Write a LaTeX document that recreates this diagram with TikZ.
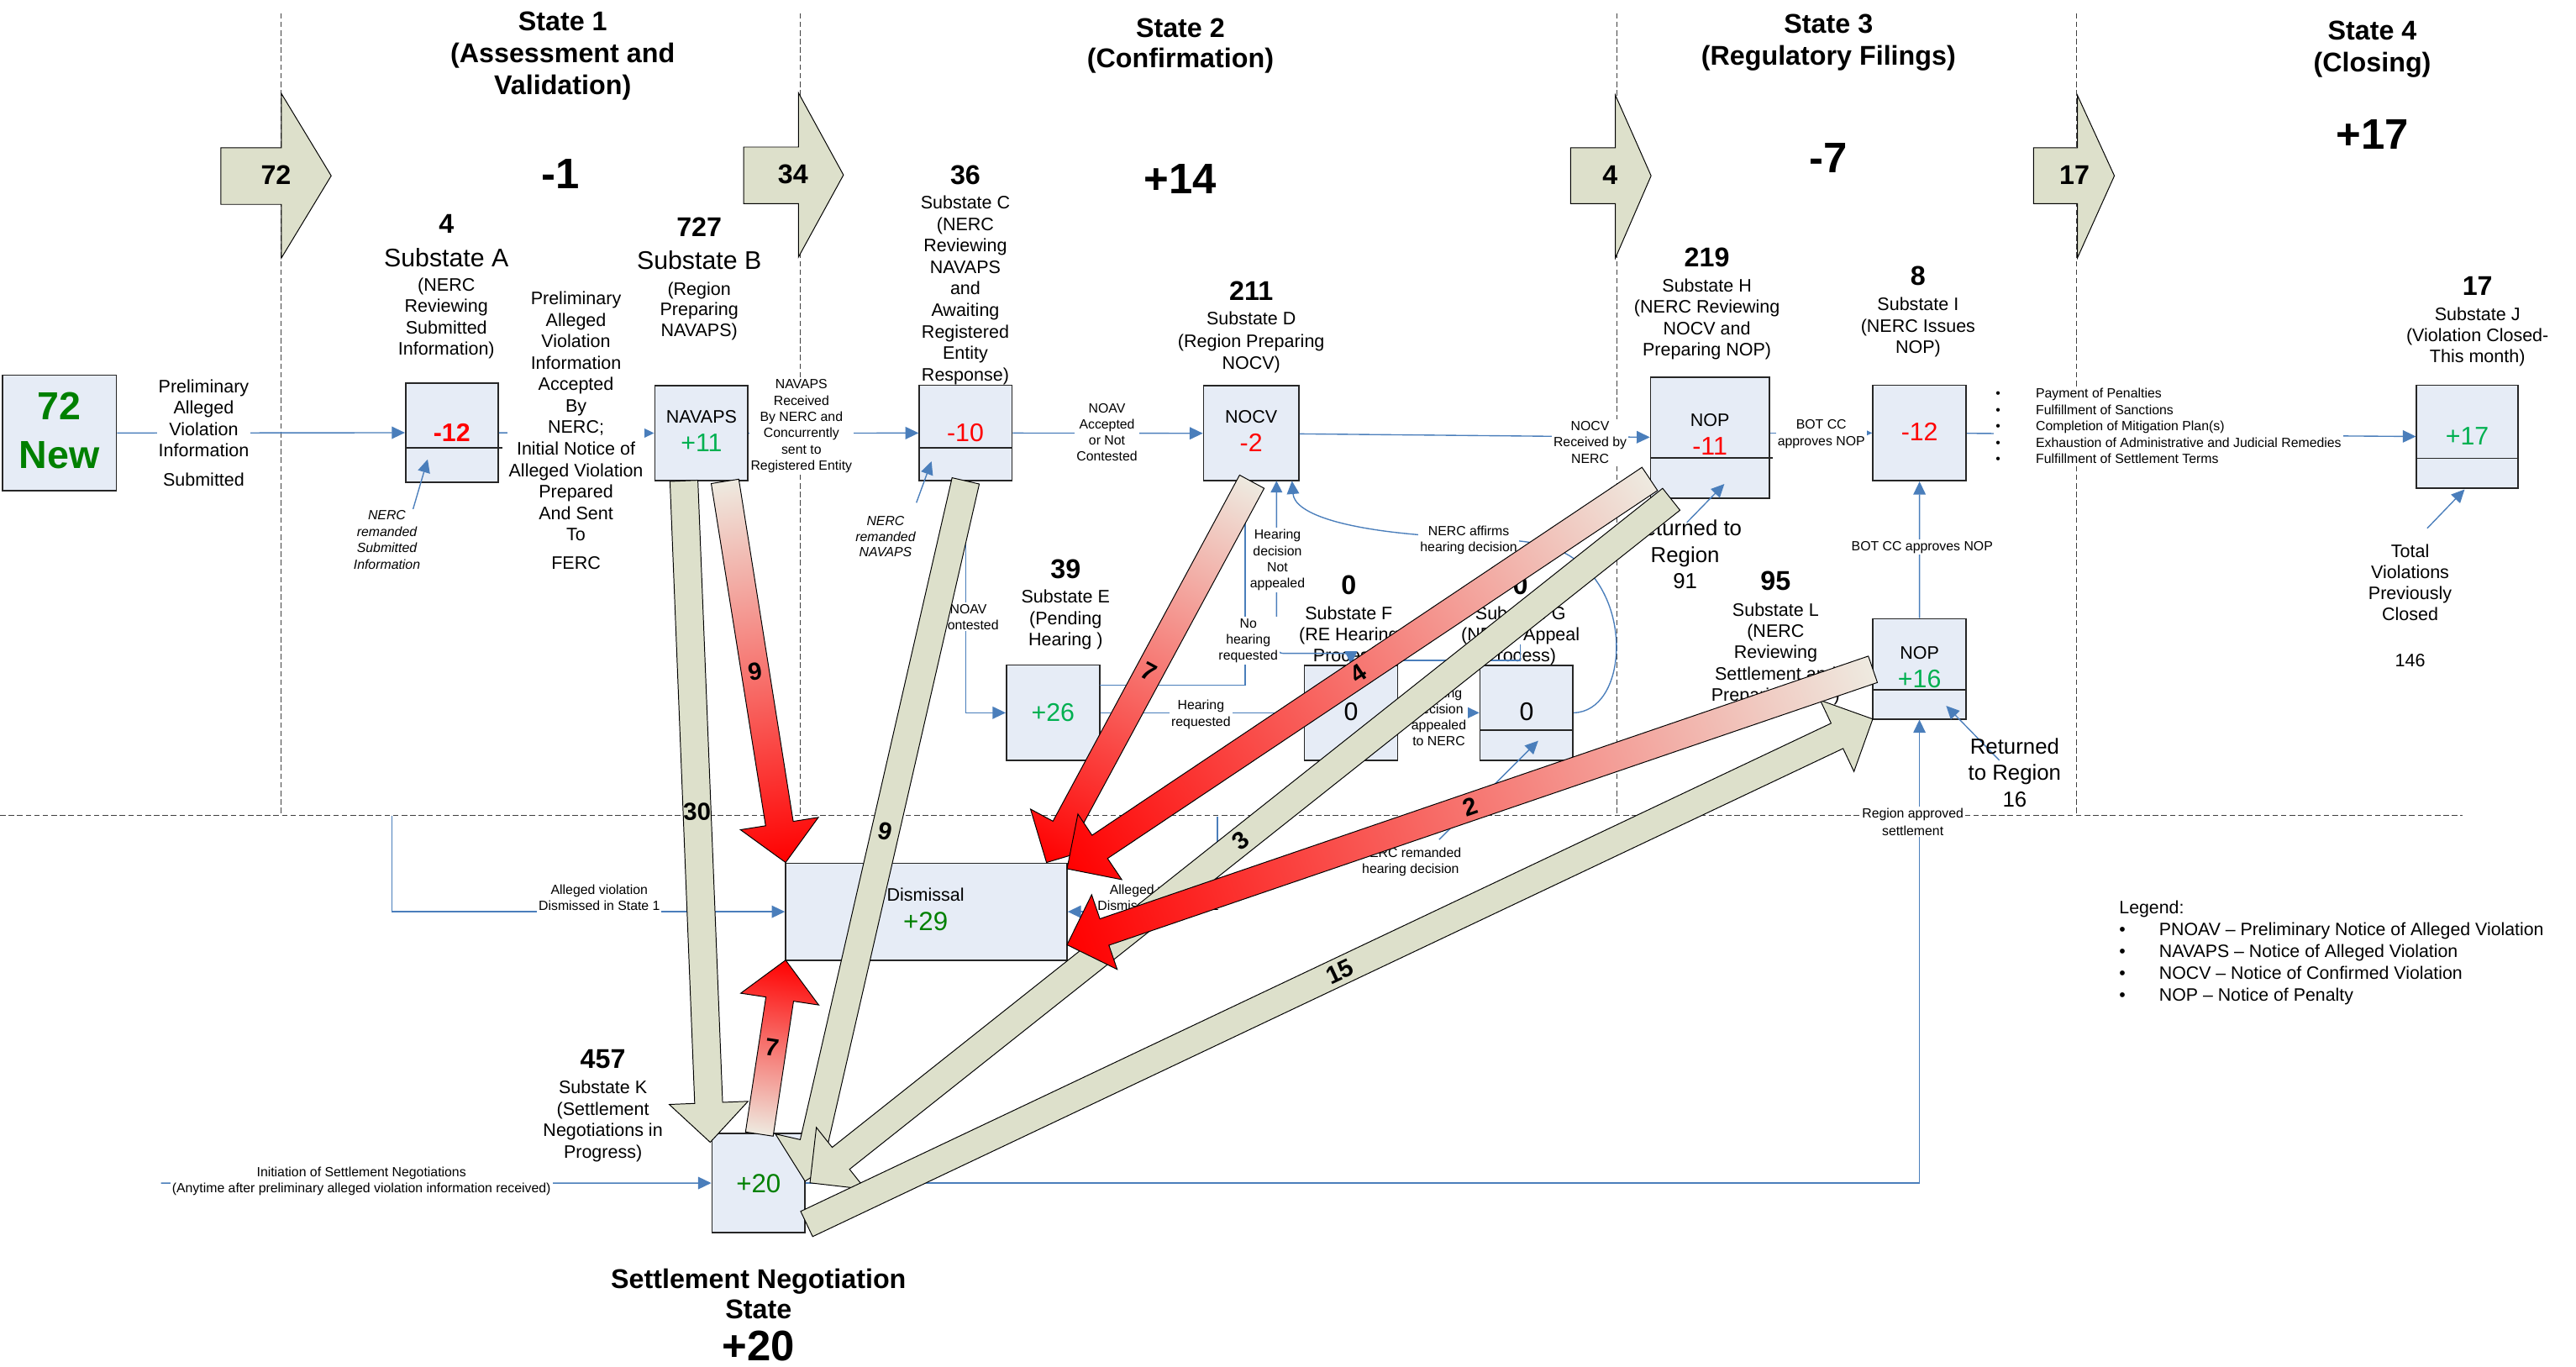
\documentclass[tikz,border=0pt]{standalone}
\usepackage{fontspec}
\setmainfont{Liberation Sans}
\usetikzlibrary{arrows.meta}
\definecolor{connblue}{RGB}{74,126,187}
\definecolor{boxfill}{RGB}{230,236,246}
\definecolor{arrgrey}{RGB}{221,224,203}
\definecolor{tailc}{RGB}{238,234,224}
\definecolor{vred}{RGB}{255,0,0}
\definecolor{brgreen}{RGB}{0,176,80}
\definecolor{dkgreen}{RGB}{0,128,0}
\newcommand\fsz[2]{\fontsize{#1}{#2}\selectfont}
\newcommand\mkbox[5]{\node[sbox, minimum width={#4-#2}, minimum height={#5-#3}] (#1) at ({(#2+#4)/2},{(#3+#5)/2}) {};}
\makeatletter
\newcommand\fatarrow[5]{%
  \pgfpointdiff{\pgfpointanchor{#1}{center}}{\pgfpointanchor{#2}{center}}%
  \pgfgetlastxy{\fa@dx}{\fa@dy}%
  \pgfmathsetmacro\fa@ang{atan2(\fa@dy,\fa@dx)}%
  \pgfmathsetmacro\fa@len{veclen(\fa@dx/100,\fa@dy/100)*100}%
  \pgfmathsetmacro\fa@base{\fa@len-24}%
  \pgfmathsetmacro\fa@mid{\fa@len/2}%
  \pgfmathsetmacro\fa@rot{#5-\fa@ang}%
  \begin{scope}[transform canvas={shift={(#1)},rotate=\fa@ang}]
    \path[bigarrow,#3] (0pt,8.5pt) -- (\fa@base pt,8.5pt) -- (\fa@base pt,24pt) -- (\fa@len pt,0pt) -- (\fa@base pt,-24pt) -- (\fa@base pt,-8.5pt) -- (0pt,-8.5pt) -- cycle;
    \node[arrnum,rotate=\fa@rot] (#1lab) at (\fa@mid pt,0pt) {#4};
  \end{scope}}
\makeatother
\begin{document}
\begin{tikzpicture}[x=1pt,y=-1pt,
  sbox/.style={draw=black!85, line width=0.9pt, fill=boxfill, inner sep=0pt},
  divl/.style={draw=black!85, line width=0.9pt},
  conn/.style={draw=connblue, line width=0.7pt, -{Triangle[length=8pt,width=7.5pt]}},
  conntwo/.style={draw=connblue, line width=0.7pt, {Triangle[length=7pt,width=7pt]}-{Triangle[length=8pt,width=7.5pt]}},
  bline/.style={draw=connblue, line width=0.7pt},
  lbl/.style={fill=white, inner sep=1pt, align=center, font=\fsz{8.1}{9.8}},
  txt/.style={inner sep=0pt, align=center},
  dashln/.style={draw=black!75, line width=0.5pt, dash pattern=on 3.4pt off 1.8pt},
  statearr/.style={draw=black, line width=0.5pt, fill=arrgrey},
  bigarrow/.style={draw=black, line width=0.5pt},
  greyarr/.style={fill=arrgrey},
  redarr/.style={left color=tailc, right color=vred},
  arrnum/.style={font=\bfseries\fsz{15}{15}, inner sep=0pt},
  ttl/.style={txt, font=\bfseries\fsz{16.5}{19.6}},
  bignum/.style={txt, font=\bfseries\fsz{26}{26}},
  cnt/.style={txt, font=\bfseries\fsz{16.5}{16.5}},
  desc/.style={txt, font=\fsz{11}{13}},
  boxnum/.style={txt, font=\fsz{15.5}{15.5}},
  boxlbl/.style={txt, font=\fsz{11}{11}},
]
\useasboundingbox (0,0) rectangle (1568,831.6);
\fill[white] (0,0) rectangle (1568,831.6);

% dashed state separators
\draw[dashln] (171,8) -- (171,496.5);
\draw[dashln] (487,8) -- (487,496.5);
\draw[dashln] (984,8) -- (984,496.5);
\draw[dashln] (1264,8) -- (1264,496.5);
\draw[dashln] (0,496.5) -- (1499,496.5);

% state transition arrows
\draw[statearr] (134.4,90) -- (171.3,90) -- (171.3,57) -- (201.6,107) -- (171.3,157) -- (171.3,124.4) -- (134.4,124.4) -- cycle;
\draw[statearr] (452.7,89.5) -- (486,89.5) -- (486,56.5) -- (513.4,106.5) -- (486,156.5) -- (486,124) -- (452.7,124) -- cycle;
\draw[statearr] (956,90) -- (983.3,90) -- (983.3,58) -- (1005,107) -- (983.3,157) -- (983.3,124) -- (956,124) -- cycle;
\draw[statearr] (1237.8,90) -- (1264.5,90) -- (1264.5,58) -- (1287,107) -- (1264.5,157) -- (1264.5,124) -- (1237.8,124) -- cycle;
\node[cnt] (sa1) at (168,106.6) {72};
\node[cnt] (sa2) at (482.7,106) {34};
\node[cnt] (sa3) at (980,106.5) {4};
\node[cnt] (sa4) at (1262.7,106.5) {17};

% titles
\node[ttl, anchor=north] (t1) at (342.5,6.7) {State 1\\(Assessment and\\Validation)};
\node[ttl, anchor=north, font=\bfseries\fsz{16.5}{18.8}] (t2) at (718.5,10.9) {State 2\\(Confirmation)};
\node[ttl, anchor=north] (t3) at (1113,8.4) {State 3\\(Regulatory Filings)};
\node[ttl, anchor=north] (t4) at (1444,12.6) {State 4\\(Closing)};
\node[bignum] (n1) at (341,105.7) {-1};
\node[bignum] (n2) at (718.5,109) {+14};
\node[bignum] (n3) at (1113,96.3) {-7};
\node[bignum] (n4) at (1444,81.8) {+17};

% substate headings
\node[cnt] (cA) at (271.7,136.4) {4};
\node[txt, font=\fsz{15.5}{15.5}] (nA) at (271.7,156.8) {Substate A};
\node[desc, anchor=north] (dA) at (271.7,168.9) {(NERC\\Reviewing\\Submitted\\Information)};
\node[cnt] (cB) at (425.6,138.4) {727};
\node[txt, font=\fsz{15.5}{15.5}] (nB) at (425.6,158.2) {Substate B};
\node[desc, anchor=north, font=\fsz{11}{12.6}] (dB) at (425.6,171.5) {(Region\\Preparing\\NAVAPS)};
\node[cnt] (cC) at (587.6,106.6) {36};
\node[desc, anchor=north, font=\fsz{11}{13.1}] (dC) at (587.6,118.9) {Substate C\\(NERC\\Reviewing\\NAVAPS\\and\\Awaiting\\Registered\\Entity\\Response)};
\node[cnt] (cD) at (761.6,177.3) {211};
\node[desc, anchor=north, font=\fsz{11}{13.5}] (dD) at (761.6,189.7) {Substate D\\(Region Preparing\\NOCV)};
\node[cnt] (cH) at (1039,156.8) {219};
\node[desc, anchor=north, font=\fsz{11}{13.1}] (dH) at (1039,169.3) {Substate H\\(NERC Reviewing\\NOCV and\\Preparing NOP)};
\node[cnt] (cI) at (1167.5,168) {8};
\node[desc, anchor=north] (dI) at (1167.5,180.9) {Substate I\\(NERC Issues\\NOP)};
\node[cnt] (cJ) at (1508,173.9) {17};
\node[desc, anchor=north, font=\fsz{11}{12.75}] (dJ) at (1508,186.9) {Substate J\\(Violation Closed-\\This month)};
\node[cnt] (cE) at (648.6,346.5) {39};
\node[desc, anchor=north, font=\fsz{11}{13.25}] (dE) at (648.6,358.6) {Substate E\\(Pending\\Hearing )};
\node[cnt] (cF) at (821,356.3) {0};
\node[desc, anchor=north, font=\fsz{11}{12.8}] (dF) at (821,369.2) {Substate F\\(RE Hearing\\Process)};
\node[cnt] (cG) at (925.5,356.3) {0};
\node[desc, anchor=north, font=\fsz{11}{12.8}] (dG) at (925.5,369.2) {Substate G\\(NERC Appeal\\Process)};
\node[cnt] (cL) at (1080.8,353.7) {95};
\node[desc, anchor=north] (dL) at (1080.8,366.7) {Substate L\\(NERC\\Reviewing\\Settlement and\\Preparing NOP)};
\node[cnt] (cK) at (367,644.6) {457};
\node[desc, anchor=north, font=\fsz{11}{13.1}] (dK) at (367,657.4) {Substate K\\(Settlement\\Negotiations in\\Progress)};

% boxes
\mkbox{New}{1.6}{228.4}{70.8}{298.8}
\mkbox{A}{246.9}{233.2}{303.3}{293.5}
\mkbox{B}{398.6}{234.7}{455.3}{292.7}
\mkbox{C}{559.6}{234.5}{616}{292.6}
\mkbox{D}{732.6}{234.9}{790.6}{292.7}
\mkbox{H}{1004.7}{229.6}{1077}{303.4}
\mkbox{I}{1140}{234.5}{1196.8}{292.6}
\mkbox{J}{1471}{234.5}{1532.6}{297.3}
\mkbox{E}{612.6}{404.8}{669.4}{462.9}
\mkbox{F}{794}{404.9}{850.7}{462.8}
\mkbox{G}{900.9}{404.9}{957.5}{462.8}
\mkbox{L}{1140}{376.7}{1196.7}{437.6}
\mkbox{Dis}{478.2}{525.5}{649.5}{584.4}
\mkbox{K}{433.4}{689.8}{490}{750.4}
\draw[divl] (246.9,272.6) -- (306,272.6);
\draw[divl] (559.6,272.7) -- (616,272.7);
\draw[divl] (1004.7,278.9) -- (1079,278.9);
\draw[divl] (1471,279) -- (1532.6,279);
\draw[divl] (900.9,444.6) -- (957.5,444.6);
\draw[divl] (1140,419.9) -- (1196.7,419.9);

% box contents
\node[txt, font=\bfseries\fsz{23.8}{23.8}, text=dkgreen] (bx1) at (36.2,247.2) {72};
\node[txt, font=\bfseries\fsz{23.8}{23.8}, text=dkgreen] (bx2) at (36.2,277) {New};
\node[txt, font=\bfseries\fsz{15.5}{15.5}, text=vred] (bxA) at (275,263.4) {-12};
\node[boxlbl] (bxB1) at (427,253.5) {NAVAPS};
\node[boxnum, text=brgreen] (bxB2) at (427,269.7) {+11};
\node[boxnum, text=vred] (bxC) at (587.6,263.3) {-10};
\node[boxlbl] (bxD1) at (761.6,253.7) {NOCV};
\node[boxnum, text=vred] (bxD2) at (761.6,269.3) {-2};
\node[boxlbl] (bxH1) at (1040.8,255.9) {NOP};
\node[boxnum, text=vred] (bxH2) at (1040.8,271.5) {-11};
\node[boxnum, text=vred] (bxI) at (1168.4,262.9) {-12};
\node[boxnum, text=brgreen] (bxJ) at (1501.8,265.6) {+17};
\node[boxnum, text=brgreen] (bxE) at (641,433.6) {+26};
\node[boxnum] (bxF) at (822.4,433) {0};
\node[boxnum] (bxG) at (929.2,433) {0};
\node[boxlbl] (bxL1) at (1168.4,397.2) {NOP};
\node[boxnum, text=brgreen] (bxL2) at (1168.4,413.4) {+16};
\node[boxlbl] (bxDis1) at (563.4,544.6) {Dismissal};
\node[txt, font=\fsz{16}{16}, text=dkgreen] (bxDis2) at (563.4,560.8) {+29};
\node[txt, font=\fsz{16}{16}, text=dkgreen] (bxK) at (461.7,720.2) {+20};

% connectors
\draw[conn] (New) -- (A);
\draw[conn] (A) -- (B);
\draw[conn] (B) -- (C);
\draw[conn] (C) -- (D);
\draw[conn] (D) -- (H);
\draw[conn] (H.east |- I.west) -- (I.west);
\draw[conn] (I) -- (J);
\coordinate (pA1) at (250.8,312); \coordinate (pA2) at (260.3,279.6);
\draw[conn] (pA1) -- (pA2);
\coordinate (pC1) at (557.8,306); \coordinate (pC2) at (567,280.8);
\draw[conn] (pC1) -- (pC2);
\coordinate (pH1) at (1026.8,318); \coordinate (pH2) at (1049.6,294.6);
\draw[conn] (pH1) -- (pH2);
\coordinate (pL1) at (1217,462.8); \coordinate (pL2) at (1184.6,429.6);
\draw[conn] (pL1) -- (pL2);
\coordinate (pJ1) at (1477.4,321.6); \coordinate (pJ2) at (1500.2,297.9);
\draw[conn] (pJ1) -- (pJ2);
\coordinate (gr1) at (876,511); \coordinate (gr2) at (936.3,450.9);
\draw[conn] (gr1) -- (gr2);
\coordinate (ds1) at (238.6,496.5);
\draw[conn] (ds1) |- (Dis.west);
\coordinate (ds2) at (741,497);
\draw[conn] (ds2) |- (Dis.east);
\draw[conn] (K.east) -| (L.south);
\draw[conn] (L.north) -- (I.south);
\coordinate (ini) at (98,720.1);
\draw[conn] (ini) -- (K.west);
\draw[conn] (C.south) |- (E.west);
\draw[conn] (E) -- (F);
\draw[conn] (F) -- (G);
\coordinate (e1) at (669.4,416.9); \coordinate (dX) at (758,292.7);
\draw[conn] (e1) -| (dX);
\coordinate (dY) at (777,292.7);
\draw[conntwo, rounded corners=4pt] (dY) -- (777,397.7) -- (822.35,397.7) -- (F.north);
\coordinate (gA) at (925.5,392); \coordinate (fB) at (850.7,402);
\draw[bline] (gA) |- (fB);
\coordinate (dZ) at (786.4,292.7);
\draw[conn] (G.east) .. controls (990,433) and (995,365) .. (958,340) .. controls (945,331) and (930,329) .. (905,328) -- (870,326) .. controls (815,322) and (788,312) .. (dZ);

% connector labels
\node[lbl, anchor=north, font=\fsz{11}{13}] (lPre) at (124,229.8) {Preliminary\\Alleged\\Violation\\Information\\[4.8pt]Submitted};
\node[lbl, anchor=north, font=\fsz{11}{13.05}] (lAcc) at (350.6,176.4) {Preliminary\\Alleged\\Violation\\Information\\Accepted\\By\\NERC;\\Initial Notice of\\Alleged Violation\\Prepared\\And Sent\\To\\[4.5pt]FERC};
\node[lbl, anchor=north, font=\fsz{8.1}{9.86}] (lNav) at (487.8,229.9) {NAVAPS\\Received\\By NERC and\\Concurrently\\sent to\\Registered Entity};
\node[lbl, anchor=north] (lNoav) at (673.8,244.5) {NOAV\\Accepted\\or Not\\Contested};
\node[lbl, anchor=north, font=\fsz{8.1}{10}] (lNocv) at (967.9,255) {NOCV\\Received by\\NERC};
\node[lbl, anchor=north] (lBot1) at (1108.6,254.4) {BOT CC\\approves NOP};
\node[lbl, anchor=north west, align=left, font=\fsz{8.1}{9.95}] (lBul) at (1213.6,235.2) {\makebox[24.4pt][l]{\textbullet}Payment of Penalties\\\makebox[24.4pt][l]{\textbullet}Fulfillment of Sanctions\\\makebox[24.4pt][l]{\textbullet}Completion of Mitigation Plan(s)\\\makebox[24.4pt][l]{\textbullet}Exhaustion of Administrative and Judicial Remedies\\\makebox[24.4pt][l]{\textbullet}Fulfillment of Settlement Terms};
\node[lbl, anchor=north] (lCont) at (589.4,366.5) {NOAV\\Contested};
\node[lbl, anchor=north] (lNoh) at (759.8,375.3) {No\\hearing\\requested};
\node[lbl, anchor=north, font=\fsz{8.1}{9.9}] (lNotap) at (777.6,321.2) {Hearing\\decision\\Not\\appealed};
\node[lbl, anchor=north] (lHreq) at (731,425) {Hearing\\requested};
\node[lbl, anchor=north, font=\fsz{8.1}{9.7}] (lApp) at (875.8,417.9) {Hearing\\decision\\appealed\\to NERC};
\node[lbl, anchor=north] (lAff) at (894,319) {NERC affirms\\hearing decision};
\node[lbl, anchor=north] (lRem) at (858.6,514.9) {NERC remanded\\hearing decision};
\node[lbl, anchor=north] (lDs1) at (364.8,537.4) {Alleged violation\\Dismissed in State 1};
\node[lbl, anchor=north] (lDs2) at (705,537.4) {Alleged violation\\Dismissed in State 2};
\node[lbl, anchor=north, font=\fsz{8.1}{10.3}] (lReg) at (1164.3,491) {Region approved\\settlement};
\node[lbl] (lBot2) at (1170,333.1) {BOT CC approves NOP};
\node[lbl, anchor=north] (lIni) at (220,709) {Initiation of Settlement Negotiations\\(Anytime after preliminary alleged violation information received)};
\node[lbl, anchor=north, font=\itshape\fsz{8.1}{9.5}] (lRemN) at (539,313) {NERC\\remanded\\NAVAPS};
\node[lbl, anchor=north, font=\itshape\fsz{8.1}{9.9}] (lRemS) at (235.5,309.7) {NERC\\remanded\\Submitted\\Information};
\node[txt, anchor=north, font=\fsz{13.2}{16}] (lRet1) at (1025.7,316.4) {Returned to\\Region\\91};
\node[txt, anchor=north, font=\fsz{13.2}{16.2}] (lRet2) at (1226.3,449.1) {Returned\\to Region\\16};
\node[txt, anchor=north, font=\fsz{11}{12.8}] (lTot) at (1467,331.2) {Total\\Violations\\Previously\\Closed\\[15.3pt]146};

% legend
\node[txt, anchor=north west, align=left, font=\fsz{10.9}{13.3}] (leg) at (1289.8,547.9) {Legend:\\\makebox[24.3pt][l]{\textbullet}PNOAV – Preliminary Notice of Alleged Violation\\\makebox[24.3pt][l]{\textbullet}NAVAPS – Notice of Alleged Violation\\\makebox[24.3pt][l]{\textbullet}NOCV – Notice of Confirmed Violation\\\makebox[24.3pt][l]{\textbullet}NOP – Notice of Penalty};

% settlement state title
\node[txt, anchor=north, font=\bfseries\fsz{16.5}{18.7}] (sns) at (461.7,771.9) {Settlement Negotiation\\State};
\node[bignum] (sns2) at (461.7,819.5) {+20};

% big flow arrows
\coordinate (g30t) at (416.3,292.7); \coordinate (g30h) at (432.3,695.3);
\coordinate (r9t) at (441.3,293); \coordinate (r9h) at (478.2,525);
\coordinate (g9t) at (587.8,292.7); \coordinate (g9h) at (490,719);
\coordinate (r7t) at (762,293.2); \coordinate (r7h) at (637,525);
\coordinate (r4t) at (1004.2,291.5); \coordinate (r4h) at (649.5,528.8);
\coordinate (g3t) at (1017.3,303.9); \coordinate (g3h) at (493,720);
\coordinate (r2t) at (1140,407.4); \coordinate (r2h) at (649.5,575.1);
\coordinate (g15t) at (491,745); \coordinate (g15h) at (1140,437.6);
\coordinate (r7kt) at (462.2,690.3); \coordinate (r7kh) at (478.2,584.4);
\fatarrow{g30t}{g30h}{greyarr}{30}{2}
\fatarrow{g9t}{g9h}{greyarr}{9}{-12.8}
\fatarrow{g3t}{g3h}{greyarr}{3}{38.4}
\fatarrow{g15t}{g15h}{greyarr}{15}{25.3}
\fatarrow{r9t}{r9h}{redarr}{9}{9}
\fatarrow{r7t}{r7h}{redarr}{7}{-28.3}
\fatarrow{r4t}{r4h}{redarr}{4}{33.8}
\fatarrow{r2t}{r2h}{redarr}{2}{18.9}
\fatarrow{r7kt}{r7kh}{redarr}{7}{-8.6}
\end{tikzpicture}
\end{document}
